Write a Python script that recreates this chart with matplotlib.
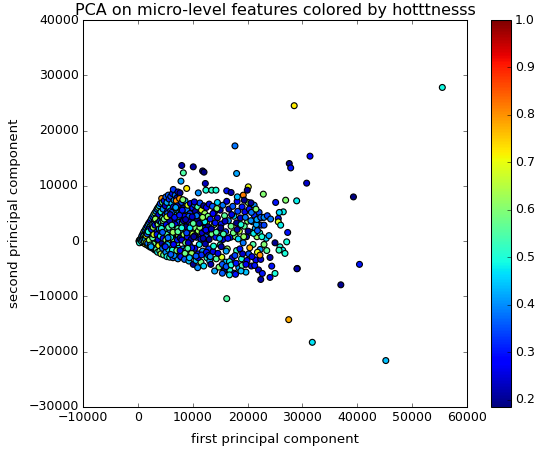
import matplotlib
matplotlib.use('Agg')
import matplotlib.pyplot as plt

# values, roughly left to right
wedge_x = [200, 300, 400, 500, 600, 700, 800, 900, 1000, 1100, 1200, 1300, 1400, 1500, 1600,
           1700, 1800, 1900, 2000, 2100, 2200, 2300, 2400, 2500, 2600, 2700, 2800, 2900, 3000, 3100,
           3200, 3300, 3400, 3500, 3600, 3700, 3800, 3900, 4000, 4100, 4200, 4340, 4400, 4500, 4600,
           4700, 4800, 4900, 5000, 5100, 5200, 5300, 5400, 5550, 5600, 5700, 5800, 5900, 6000, 6100,
           6200, 6300, 6460, 6500, 6600, 6700, 6800, 6900, 7000, 7100, 7200, 7300, 7400, 7500, 7680,
           300, 500, 700, 900, 1100, 1400, 1700, 2000, 2300, 2600, 2900, 3200, 3500, 3800, 4100]
wedge_y = [0, 200, -100, 400, -200, 900, 300, 1300, 700, 1700, 1200, 2000, 800, 2400, 1500,
           2700, 1900, 3100, 1200, 3400, 2500, 3700, 1700, 4100, 3000, 4400, 2200, 4800, 3600, 5100,
           2600, 5400, 4200, 5800, 3000, 6100, 4800, 6400, 3500, 6800, 5300, 7720, 4100, 7000, 5800,
           3300, 7300, 4700, 6400, 8000, 3900, 7000, 5400, 8320, 4500, 7600, 6000, 3600, 8100, 5100,
           6800, 8600, 9350, 4300, 7400, 5700, 8300, 3800, 6400, 7800, 4900, 8900, 6900, 5600, 8730,
           -300, 200, 100, 500, 900, -100, 1100, 2100, 1400, 2000, 3100, 4000, 2700, 3300, 2500]
wedge_hot = [0.45, 0.55, 0.35, 0.6, 0.5, 0.4, 0.65, 0.3, 0.5, 0.58, 0.42, 0.35, 0.62, 0.48, 0.7,
             0.32, 0.54, 0.44, 0.6, 0.38, 0.5, 0.28, 0.64, 0.42, 0.56, 0.34, 0.7, 0.46, 0.3, 0.6,
             0.52, 0.4, 0.66, 0.36, 0.48, 0.58, 0.26, 0.44, 0.62, 0.34, 0.5, 0.8, 0.3, 0.56, 0.4,
             0.68, 0.3, 0.52, 0.24, 0.36, 0.6, 0.42, 0.28, 0.36, 0.54, 0.32, 0.48, 0.64, 0.34, 0.24,
             0.44, 0.3, 0.33, 0.56, 0.4, 0.22, 0.38, 0.6, 0.28, 0.24, 0.5, 0.26, 0.42, 0.72, 0.2,
             0.5, 0.42, 0.6, 0.36, 0.52, 0.7, 0.44, 0.3, 0.58, 0.46, 0.38, 0.62, 0.34, 0.54, 0.28]

nose_x = [800, 1000, 1100, 1300, 1300, 1500, 1600, 1700, 1800, 1900, 2000, 2000, 2100, 2200, 2300,
          2400, 2400, 2500, 2600, 2600, 2700, 2800, 2900, 3000, 3000, 3100, 3200, 3200, 3300, 3400,
          700, 900, 1200, 1400, 1600, 1800, 2000, 2200, 2400, 2600, 2800, 3000, 3200, 3400, 3600,
          1500, 1700, 1900, 2100, 2300, 2500, 2700, 2900, 3100, 3300, 3500, 3700, 3900, 4100, 4300,
          2400, 2800, 3100, 3400, 3700, 4000, 4200, 4400, 4600, 4800, 3600, 3900, 4200, 4500, 4800]
nose_y = [0, 300, -300, 600, -500, 100, 800, -700, 400, 1200, -200, -900, 1500, 700, -1100,
          300, 1700, -600, 1000, 2000, -1300, 100, 2200, -900, 1500, -1600, 500, 2500, -200, 2800,
          -100, 100, 0, 300, -200, -400, 500, 1000, -900, 1400, -500, 800, 1900, -1200, 2400,
          1000, 1300, 1700, 200, -700, 2100, 600, 1200, -1400, 3000, 1800, 3300, -1700, 3700, -1900,
          -1000, 2500, 2900, -1700, 1000, 2700, 500, 3800, -2200, 4100, 3200, 100, -1100, 3300, -1600]
nose_hot = [0.45, 0.6, 0.5, 0.35, 0.7, 0.55, 0.4, 0.62, 0.3, 0.5, 0.58, 0.72, 0.33, 0.47, 0.6,
            0.52, 0.42, 0.68, 0.38, 0.55, 0.3, 0.62, 0.44, 0.5, 0.66, 0.36, 0.57, 0.48, 0.25, 0.6,
            0.5, 0.4, 0.6, 0.45, 0.7, 0.38, 0.55, 0.3, 0.64, 0.46, 0.58, 0.34, 0.52, 0.42, 0.6,
            0.7, 0.36, 0.5, 0.62, 0.44, 0.3, 0.56, 0.68, 0.4, 0.52, 0.28, 0.6, 0.46, 0.33, 0.57,
            0.42, 0.62, 0.3, 0.5, 0.7, 0.38, 0.56, 0.26, 0.48, 0.6, 0.34, 0.64, 0.44, 0.52, 0.3]

body_a_x = [3400, 3500, 3600, 3700, 3700, 3800, 3900, 4000, 4000, 4100, 4200, 4200, 4300, 4400, 4400,
            4500, 4500, 4600, 4700, 4700, 4800, 4900, 5000, 5000, 5100, 5100, 5200, 5300, 5300, 5400,
            5500, 5500, 5600, 5700, 5700, 5800, 5900, 6000, 6000, 6100, 6100, 6200, 6300, 6400, 6400,
            6500, 6600, 6600, 6700, 6800, 6800, 6900, 7000, 7000, 7100, 7200, 7200, 7300, 7400, 7500,
            4300, 4500, 4600, 5200, 5400, 5600, 5800, 6000, 6200, 6400, 6600, 6800, 7000, 7200, 7400,
            4800, 5000, 5300, 5500, 5900, 6300, 6700, 7100, 7500, 7700, 6000, 6200, 6500, 6900, 7300]
body_a_y = [-1500, 1200, -2000, 3000, 300, -800, 2200, 3600, -1800, 900, -2300, 1800, 3400, -400, 2700,
            -1300, 4200, 500, -2500, 3100, 1500, -900, 4700, 2300, -2000, 200, 3700, -2800, 1200, 5000,
            -300, 2900, -1500, 4200, 700, -2900, 2000, 5500, 3300, -800, -2200, 1000, 4600, -3000, 2400,
            6200, 100, 3600, -1700, 5000, 1500, -2700, 7300, 2800, -400, 4200, 6400, -3200, 900, 3400,
            2300, 1600, 3700, 3000, -600, 2500, 3700, 700, 5200, 1600, -2600, 3000, 5700, 200, -1300,
            4000, -1000, 4400, 600, 4800, -1600, 4300, -1700, 5300, 600, -2400, 2900, -600, 6000, 2300]
body_a_hot = [0.55, 0.3, 0.48, 0.6, 0.25, 0.7, 0.42, 0.33, 0.58, 0.5, 0.65, 0.28, 0.46, 0.22, 0.6,
              0.38, 0.52, 0.3, 0.56, 0.43, 0.66, 0.24, 0.35, 0.5, 0.4, 0.6, 0.27, 0.48, 0.55, 0.36,
              0.7, 0.3, 0.45, 0.6, 0.22, 0.52, 0.38, 0.33, 0.58, 0.47, 0.28, 0.64, 0.41, 0.35, 0.54,
              0.3, 0.6, 0.25, 0.44, 0.5, 0.72, 0.37, 0.8, 0.32, 0.56, 0.46, 0.28, 0.4, 0.62, 0.35,
              0.5, 0.36, 0.6, 0.28, 0.44, 0.56, 0.22, 0.48, 0.34, 0.62, 0.4, 0.26, 0.52, 0.3, 0.46,
              0.58, 0.32, 0.66, 0.38, 0.24, 0.5, 0.3, 0.6, 0.42, 0.2, 0.36, 0.54, 0.28, 0.44, 0.56]

body_b_x = [7600, 7700, 7800, 7900, 8000, 8000, 8100, 8200, 8300, 8400, 8500, 8500, 8600, 8700, 8800,
            8900, 9000, 9000, 9100, 9200, 9300, 9400, 9500, 9500, 9600, 9700, 9800, 9900, 10000, 10000,
            10100, 10200, 10300, 10400, 10500, 10500, 10600, 10700, 10800, 10900, 11000, 11000, 11100, 11200, 11300,
            11400, 11500, 11500, 11600, 11700, 11800, 11900, 12000, 12000, 12100, 12200, 12300, 12400, 12500, 12500,
            12600, 12700, 12800, 12900, 13000, 13000, 6900, 7300, 7600, 8200, 8800, 9300, 9800, 10300, 10900,
            7700, 8000, 8300, 8600, 8900, 9200, 9500, 9800, 10100, 10400, 10700, 11000, 11300, 11600, 11900,
            12200, 12500, 12800, 13100, 8100, 8700, 9100, 9900, 10600, 11200, 11800, 12400, 9400, 10200, 12900]
body_b_y = [7700, 1800, -2800, 5200, 200, 7000, 3400, -1400, 6000, 1200, -3300, 4500, 7300, -300, 2600,
            5700, -2300, 800, 6500, 3600, -3600, 1800, 5000, -800, 6800, 300, 3000, -2600, 6000, 1300,
            -4200, 4200, 6600, -1300, 2400, 5400, -3500, 700, 3700, 6200, -2300, 1800, 4800, -600, 6900,
            2900, -3800, 400, 5600, 1500, -1800, 3800, 6400, -4500, 2300, 5000, -500, 800, 3300, 6100,
            -3000, 1800, 4500, -1400, 6700, 300, 6100, 1700, 4700, 7500, -1600, 4500, -2200, 7100, -4800,
            -1700, 2400, 3700, -2200, 1500, -300, 2400, -1200, 3200, 1000, 4600, -3000, 2500, -2500, 500,
            3500, -2000, 2600, -3600, 5600, 3900, -1300, 4400, -2700, 3200, 4300, 2000, -3000, 800, -2600]
body_b_hot = [0.8, 0.48, 0.3, 0.6, 0.25, 0.35, 0.52, 0.42, 0.22, 0.62, 0.36, 0.28, 0.45, 0.58, 0.2,
              0.38, 0.55, 0.3, 0.68, 0.24, 0.44, 0.6, 0.33, 0.5, 0.27, 0.22, 0.57, 0.4, 0.3, 0.65,
              0.2, 0.48, 0.36, 0.26, 0.6, 0.22, 0.44, 0.32, 0.2, 0.54, 0.3, 0.62, 0.26, 0.47, 0.35,
              0.22, 0.58, 0.3, 0.68, 0.24, 0.4, 0.55, 0.2, 0.46, 0.3, 0.62, 0.22, 0.36, 0.7, 0.28,
              0.5, 0.24, 0.58, 0.33, 0.26, 0.2, 0.42, 0.56, 0.3, 0.6, 0.5, 0.36, 0.62, 0.25, 0.4,
              0.28, 0.5, 0.22, 0.58, 0.34, 0.24, 0.46, 0.3, 0.56, 0.2, 0.38, 0.26, 0.6, 0.32, 0.22,
              0.48, 0.27, 0.2, 0.42, 0.3, 0.22, 0.55, 0.24, 0.36, 0.2, 0.62, 0.28, 0.44, 0.21, 0.3]

body_c_x = [13200, 13300, 13500, 13600, 13700, 13900, 14000, 14000, 14200, 14300, 14500, 14500, 14700, 14800, 15000,
            15000, 15200, 15300, 15500, 15500, 15700, 15800, 16000, 16000, 16200, 16300, 16500, 16600, 16800, 16900,
            17000, 17200, 17300, 17500, 17600, 17800, 18000, 18000, 18200, 18400, 18500, 18700, 18900, 19000, 19200,
            19400, 19500, 19700, 19800, 20000, 20200, 20300, 20500, 20700, 20900, 21000, 21200, 21400, 21500, 21700,
            21900, 22000, 22200, 22300, 22500, 22700, 17800, 16700, 15400, 19000, 18100, 20100, 21200, 23000, 23400,
            13400, 13800, 14100, 14400, 14600, 14900, 15100, 15400, 15600, 15900, 16100, 16400, 16700, 17100, 17400,
            17700, 18100, 18300, 18600, 18800, 19100, 19300, 19600, 19900, 20100, 20400, 20600, 20800, 21100, 21300,
            21600, 21800, 22100, 22400, 22600, 13200, 13700, 14300, 15200, 16100, 17000, 17900, 18800, 19700, 20700]
body_c_y = [4000, -4200, 1300, 6300, -1900, 3000, 5300, -5400, 700, -3200, 4200, 7000, 1800, -4700, 5600,
            -700, 3100, -2900, 6500, 300, -5400, 4600, 1700, -3800, 7200, -1400, 3700, 5800, -5300, 700,
            2700, -3000, 6300, 4500, -5800, 800, 3300, -1700, 5400, -4800, 1800, 4200, -3200, 6200, -300,
            2700, 5300, -5600, 800, 3600, -2300, 5800, 1600, -4500, 3500, -600, 4700, 2300, -3400, 800,
            4000, -5200, 1500, -1500, 2900, 4300, -6000, -6100, -5800, -4400, 7200, 7000, 6500, 2900, 500,
            2200, -900, 3300, 5900, -2200, 500, 2400, -4200, 1300, 3600, -1800, 500, -3700, 4800, 1500,
            -2600, 2100, 400, -1400, 3000, -2300, 800, 4300, -3500, 1800, -1200, 3700, -2800, 1400, -4400,
            3000, -2000, 5200, -3300, 800, -2800, 5000, 1600, -1000, -4600, -4300, -4000, -5400, -4200, 5200]
body_c_hot = [0.3, 0.22, 0.58, 0.36, 0.26, 0.62, 0.2, 0.42, 0.3, 0.56, 0.24, 0.46, 0.35, 0.6, 0.22,
              0.52, 0.3, 0.68, 0.38, 0.26, 0.2, 0.56, 0.33, 0.44, 0.25, 0.62, 0.4, 0.22, 0.5, 0.3,
              0.58, 0.26, 0.36, 0.45, 0.28, 0.6, 0.2, 0.52, 0.34, 0.42, 0.66, 0.24, 0.5, 0.3, 0.38,
              0.56, 0.27, 0.44, 0.22, 0.6, 0.35, 0.3, 0.48, 0.25, 0.38, 0.55, 0.32, 0.42, 0.28, 0.62,
              0.36, 0.24, 0.5, 0.4, 0.32, 0.44, 0.3, 0.48, 0.36, 0.56, 0.28, 0.62, 0.4, 0.34, 0.46,
              0.22, 0.5, 0.3, 0.6, 0.26, 0.44, 0.2, 0.36, 0.54, 0.24, 0.42, 0.3, 0.48, 0.26, 0.58,
              0.34, 0.22, 0.46, 0.3, 0.5, 0.24, 0.62, 0.38, 0.28, 0.2, 0.78, 0.4, 0.26, 0.48, 0.3,
              0.42, 0.7, 0.34, 0.25, 0.5, 0.4, 0.28, 0.55, 0.22, 0.36, 0.5, 0.3, 0.44, 0.27, 0.38]

fringe_x = [17700, 8000, 10100, 11800, 12060, 8290, 18000, 27600, 27860, 7860, 30770, 31380, 8900, 12300, 11020,
            12400, 13460, 14240, 16200, 17000, 18130, 19220, 20130, 19950, 22870, 19400, 20620, 21530, 25120, 26940,
            28950, 26510, 25780, 25600, 25600, 26030, 27310, 27130, 25000, 25910, 26400, 26820, 25730, 24090, 29060,
            24400, 24090, 22400, 22690, 25000, 22260, 21700, 21800, 22400, 23000, 23600, 24200, 23000, 23500, 23900]
fringe_y = [17230, 13680, 13440, 12700, 12480, 12350, 12240, 14040, 13250, 10850, 10490, 15370, 9530, 10430, 8730,
            9220, 9220, 9220, 9100, 8800, 8010, 8320, 9820, 9220, 8500, 7410, 6930, 5790, 7000, 7410,
            7290, 5300, 5190, 4100, 3490, 2890, 1570, -130, -300, -1030, -1630, -2220, -1630, -2950, -4940,
            -4520, -6560, -6930, -5840, -5840, -2530, 3900, 1900, 4300, 4300, 4600, 4000, -600, -1700, 1000]
fringe_hot = [0.38, 0.22, 0.21, 0.2, 0.19, 0.55, 0.42, 0.2, 0.3, 0.42, 0.24, 0.28, 0.72, 0.23, 0.4,
              0.5, 0.52, 0.5, 0.3, 0.22, 0.44, 0.82, 0.7, 0.2, 0.6, 0.2, 0.21, 0.6, 0.3, 0.6,
              0.48, 0.48, 0.46, 0.3, 0.68, 0.48, 0.3, 0.5, 0.2, 0.5, 0.48, 0.5, 0.52, 0.22, 0.22,
              0.3, 0.27, 0.22, 0.3, 0.5, 0.8, 0.42, 0.36, 0.36, 0.4, 0.34, 0.38, 0.6, 0.56, 0.42]

outlier_x = [55500, 28500, 39300, 37000, 40400, 27500, 31800, 45200, 16200, 29000]
outlier_y = [27800, 24500, 8000, -7900, -4200, -14200, -18300, -21600, -10400, -5000]
outlier_hot = [0.49, 0.72, 0.19, 0.2, 0.3, 0.78, 0.47, 0.44, 0.55, 0.22]

x = wedge_x + nose_x + body_a_x + body_b_x + body_c_x + fringe_x + outlier_x
y = wedge_y + nose_y + body_a_y + body_b_y + body_c_y + fringe_y + outlier_y
hot = wedge_hot + nose_hot + body_a_hot + body_b_hot + body_c_hot + fringe_hot + outlier_hot

plt.style.use('classic')
fig = plt.figure(figsize=(535 / 75, 451 / 75), dpi=75, facecolor='white')
ax = fig.add_axes([83 / 535, 1 - 407 / 451, 384 / 535, 387 / 451])
sc = ax.scatter(x, y, c=hot, s=32, cmap='jet', vmin=0.185, vmax=1.0, linewidths=1.1)
ax.set_xlim(-10000, 60000)
ax.set_ylim(-30000, 40000)
ax.set_title('PCA on micro-level features colored by hotttnesss', fontsize=15.4, pad=5)
ax.set_xlabel('first principal component', fontsize=12.7, labelpad=8)
ax.set_ylabel('second principal component', fontsize=12.7, labelpad=7)

cax = fig.add_axes([491 / 535, 1 - 407 / 451, 20 / 535, 387 / 451])
fig.colorbar(sc, cax=cax, ticks=[0.2, 0.3, 0.4, 0.5, 0.6, 0.7, 0.8, 0.9, 1.0])
cax.tick_params(labelsize=12)

fig.savefig('out.png', dpi=75, facecolor='white')
